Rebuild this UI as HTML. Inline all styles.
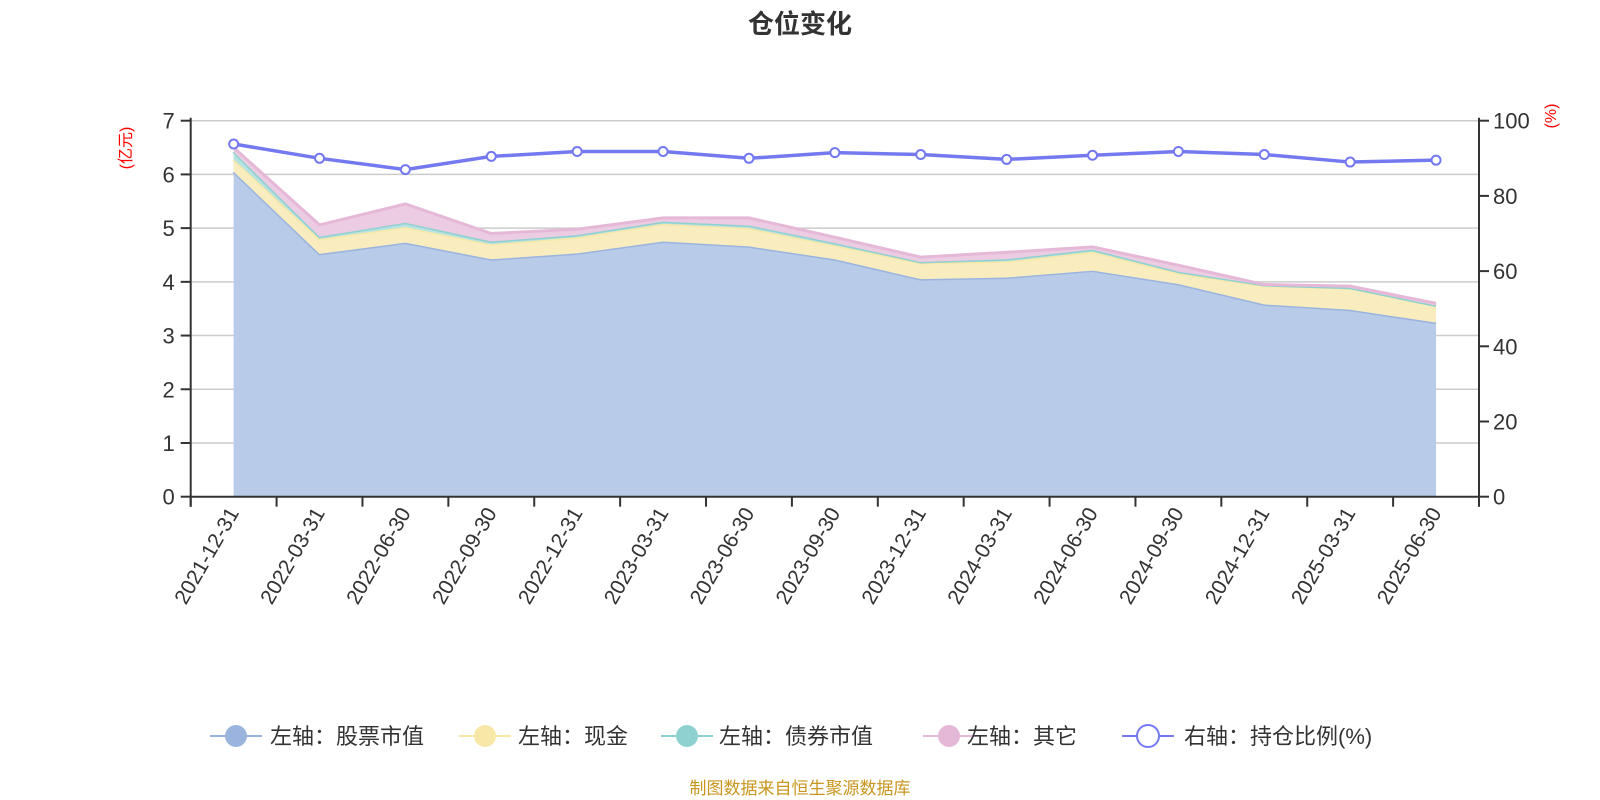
<!DOCTYPE html>
<html><head><meta charset="utf-8"><style>
body{margin:0;background:#fff;}
svg{display:block;font-family:"Liberation Sans","Noto Sans CJK SC",sans-serif;}
</style></head><body>
<svg id="chart" width="1600" height="800" viewBox="0 0 1600 800">
<text x="800" y="33" text-anchor="middle" font-size="26" font-weight="bold" fill="#333">仓位变化</text>
<g id="grid"></g>
<g id="areas"></g>
<g id="axes"></g>
<g id="ratio"></g>
<text transform="translate(131,148) rotate(-90)" text-anchor="middle" font-size="16" fill="#f00">(亿元)</text>
<text transform="translate(1556,116) rotate(-90)" text-anchor="middle" font-size="16" fill="#f00">(%)</text>
<g id="legend"></g>
<text x="800" y="794" text-anchor="middle" font-size="17" fill="#c8961e">制图数据来自恒生聚源数据库</text>
</svg>
<script>
const categories=["2021-12-31","2022-03-31","2022-06-30","2022-09-30","2022-12-31","2023-03-31","2023-06-30","2023-09-30","2023-12-31","2024-03-31","2024-06-30","2024-09-30","2024-12-31","2025-03-31","2025-06-30"];
const stockValues=[6.05,4.52,4.73,4.42,4.53,4.75,4.66,4.42,4.05,4.08,4.21,3.96,3.58,3.48,3.24];
const cashValues=[0.23,0.28,0.29,0.28,0.30,0.33,0.34,0.26,0.30,0.30,0.35,0.20,0.35,0.40,0.31];
const bondValues=[0.14,0.04,0.08,0.05,0.04,0.04,0.05,0.04,0.02,0.04,0.04,0.03,0.01,0.01,0.01];
const otherValues=[0.08,0.22,0.35,0.15,0.11,0.07,0.14,0.11,0.09,0.13,0.05,0.12,0.01,0.03,0.04];
const ratioValues=[93.8,90.0,87.0,90.5,91.8,91.8,90.0,91.5,91.0,89.7,90.8,91.8,91.0,89.0,89.5];
const leftTicks=[0,1,2,3,4,5,6,7];
const rightTicks=[0,20,40,60,80,100];
const legendLabels=["左轴：股票市值","左轴：现金","左轴：债券市值","左轴：其它","右轴：持仓比例(%)"];

const NS="http://www.w3.org/2000/svg";
const X0=190.7,X1=1479,Y0=496.7,Y1=120.7;
const band=(X1-X0)/categories.length;
const xPos=i=>X0+band*(i+0.5);
const yL=v=>Y0-(v/7)*(Y0-Y1);
const yR=v=>Y0-(v/100)*(Y0-Y1);
function mk(tag,attrs,parent){const e=document.createElementNS(NS,tag);for(const k in attrs)e.setAttribute(k,attrs[k]);parent.appendChild(e);return e;}
const grid=document.getElementById('grid'),areas=document.getElementById('areas'),axes=document.getElementById('axes'),ratio=document.getElementById('ratio'),legend=document.getElementById('legend');

leftTicks.forEach(t=>{
  const y=yL(t);
  if(t>0){const g=mk('line',{x1:X0,x2:X1,y1:y,y2:y,stroke:'#ccc','stroke-width':1.5},grid);
  
  }
  const tk=mk('line',{x1:X0-10,x2:X0,y1:y,y2:y,stroke:'#333','stroke-width':2},axes);
  
  
  const tx=mk('text',{x:X0-16,y:y+8,'text-anchor':'end','font-size':22,fill:'#333'},axes);
  
  
  tx.textContent=t;
});
rightTicks.forEach(t=>{
  const y=yR(t);
  const tk=mk('line',{x1:X1,x2:X1+10,y1:y,y2:y,stroke:'#333','stroke-width':2},axes);
  
  
  const tx=mk('text',{x:X1+14,y:y+8,'font-size':22,fill:'#333'},axes);
  
  
  tx.textContent=t;
});

const series=[stockValues,cashValues,bondValues,otherValues];
const fills=['#b8cbe8','#f9edc0','#b7e2e1','#ecccE2'];
const strokes=['#9ab4df','#f7e8a8','#8fd1d0','#e6b8d8'];
const names=['area-stock','area-cash','area-bond','area-other'];
let base=categories.map(()=>0);
series.forEach((s,si)=>{
  const top=base.map((b,i)=>b+s[i]);
  let d='M'+categories.map((c,i)=>xPos(i)+','+yL(top[i])).join(' L');
  for(let i=categories.length-1;i>=0;i--)d+=' L'+xPos(i)+','+yL(base[i]);
  d+='Z';
  const a=mk('path',{d:d,fill:fills[si]},areas);
  
  
  const l=mk('polyline',{points:categories.map((c,i)=>xPos(i)+','+yL(top[i])).join(' '),fill:'none',stroke:strokes[si],'stroke-width':3},areas);
  
  
  base=top;
});

const ax=mk('line',{x1:X0,x2:X0,y1:Y1-3,y2:Y0+10,stroke:'#333','stroke-width':2},axes);


const ax2=mk('line',{x1:X1,x2:X1,y1:Y1-3,y2:Y0+10,stroke:'#333','stroke-width':2},axes);


const ax3=mk('line',{x1:X0,x2:X1,y1:Y0,y2:Y0,stroke:'#333','stroke-width':2},axes);


for(let i=0;i<=categories.length;i++){
  const x=X0+band*i;
  const tk=mk('line',{x1:x,x2:x,y1:Y0,y2:Y0+10,stroke:'#333','stroke-width':2},axes);
  
  
}
categories.forEach((c,i)=>{
  const x=xPos(i)+6,y=Y0+16;
  const t=mk('text',{x:x,y:y,'text-anchor':'end','font-size':21,fill:'#333',transform:`rotate(-60 ${x} ${y})`},axes);
  
  
  t.textContent=c;
});

const rl=mk('polyline',{points:ratioValues.map((v,i)=>xPos(i)+','+yR(v)).join(' '),fill:'none',stroke:'#7479f0','stroke-width':3.5},ratio);


ratioValues.forEach((v,i)=>{
  const p=mk('circle',{cx:xPos(i),cy:yR(v),r:4.5,fill:'#fff',stroke:'#7479f0','stroke-width':2},ratio);
  
  
});

const legX=[210,459,661,923,1122],legT=[270,518,719,967,1184];
const legC=['#9ab4df','#f7e8a8','#8fd1d0','#e6b8d8','#7479f0'];
legendLabels.forEach((lab,i)=>{
  const g=mk('g',{},legend);
  
  
  const cy=736,cx=legX[i]+26;
  mk('line',{x1:legX[i],x2:legX[i]+52,y1:cy,y2:cy,stroke:legC[i],'stroke-width':2},g);
  if(i<4)mk('circle',{cx:cx,cy:cy,r:11,fill:legC[i]},g);
  else mk('circle',{cx:cx,cy:cy,r:11,fill:'#fff',stroke:legC[i],'stroke-width':2},g);
  const t=mk('text',{x:legT[i],y:cy+8,'font-size':22,fill:'#333'},g);
  t.textContent=lab;
});
</script>
</body></html>
